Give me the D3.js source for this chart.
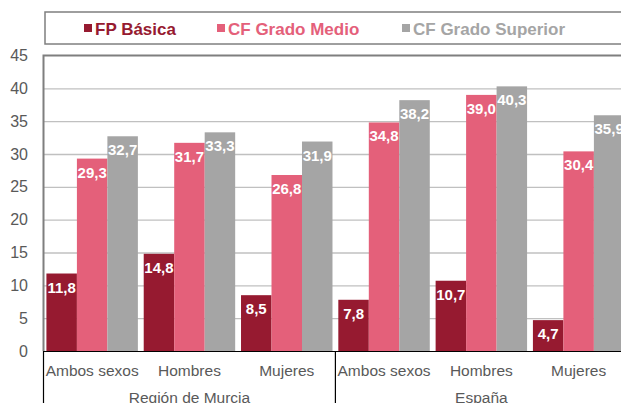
<!DOCTYPE html>
<html>
<head>
<meta charset="utf-8">
<script src="https://cdn.jsdelivr.net/npm/d3@7"></script>
<style>
  body { margin: 0; background: #fff; }
  svg { display: block; font-family: "Liberation Sans", Arial, sans-serif; }
</style>
</head>
<body>
<div class="svg-container"></div>
<script>
document.addEventListener("DOMContentLoaded", () => {

  // data
  let regions = ["Región de Murcia", "España"];
  let sexes = ["Ambos sexos", "Hombres", "Mujeres"];
  let series = ["FP Básica", "CF Grado Medio", "CF Grado Superior"];
  let fpBasica = [11.8, 14.8, 8.5, 7.8, 10.7, 4.7];
  let cfMedio = [29.3, 31.7, 26.8, 34.8, 39.0, 30.4];
  let cfSuperior = [32.7, 33.3, 31.9, 38.2, 40.3, 35.9];
  let yTicks = [0, 5, 10, 15, 20, 25, 30, 35, 40, 45];

  let colors = ["#961a30", "#e4607a", "#a5a5a5"];
  let values = [fpBasica, cfMedio, cfSuperior];

  let width = 621,
  height = 403;

  let svg = d3.select(".svg-container").append("svg")
    .attr("width", width)
    .attr("height", height);

  // groups: region + sex
  let groups = [];
  regions.forEach(r => sexes.forEach(s => groups.push(r + "|" + s)));

  const xScale = d3.scaleBand()
    .domain(groups)
    .range([43.5, 627.3])
    .paddingInner(0.06)
    .paddingOuter(0.03);

  const xInner = d3.scaleBand()
    .domain(series)
    .range([0, xScale.bandwidth()]);

  const yScale = d3.scaleLinear()
    .domain([0, 45])
    .range([351, 55.5]);

  //gridlines
  svg.append("g")
    .attr("transform", "translate(43.5,0)")
    .call(d3.axisLeft(yScale).tickValues(yTicks.slice(1, -1)).tickSize(-600).tickFormat(""))
    .call(g => g.select(".domain").remove())
    .call(g => g.selectAll("line").attr("stroke", "#c0c0c0").attr("stroke-width", 1.3));

  //plot area border
  svg.append("path")
    .attr("d", "M43.5,351 V" + yScale(45) + " H640")
    .attr("fill", "none")
    .attr("stroke", "#7f7f7f")
    .attr("stroke-width", 2);

  //y labels
  svg.append("g")
    .attr("transform", "translate(28,0)")
    .call(d3.axisLeft(yScale).tickValues(yTicks).tickSize(0).tickPadding(0))
    .call(g => g.select(".domain").remove())
    .call(g => g.selectAll("text")
      .attr("fill", "#595959")
      .style("font-size", "16px")
      .style("font-family", "'Liberation Sans', Arial, sans-serif"));

  //bars
  let rows = [];
  groups.forEach((g, i) => {
    series.forEach((s, j) => rows.push({ group: g, serie: s, value: values[j][i], color: colors[j] }));
  });

  let bars = svg.append("g");
  bars.selectAll("rect")
    .data(rows)
    .enter()
    .append("rect")
    .attr("x", d => xScale(d.group) + xInner(d.serie))
    .attr("y", d => yScale(d.value))
    .attr("width", xInner.bandwidth())
    .attr("height", d => yScale(0) - yScale(d.value))
    .style("fill", d => d.color);

  bars.selectAll("text")
    .data(rows)
    .enter()
    .append("text")
    .attr("x", d => xScale(d.group) + xInner(d.serie) + xInner.bandwidth() / 2)
    .attr("y", d => yScale(d.value) + 19)
    .attr("text-anchor", "middle")
    .attr("fill", "#fff")
    .style("font-size", "15px")
    .style("font-weight", "bold")
    .text(d => d.value.toFixed(1).replace(".", ","));

  //x axis line
  svg.append("line")
    .attr("x1", 43)
    .attr("x2", 640)
    .attr("y1", 351.5)
    .attr("y2", 351.5)
    .attr("stroke", "#000")
    .attr("stroke-width", 1.2);

  //category separators
  let seps = [0, 3, 6].map(i => i < 6 ? xScale(groups[i]) - xScale.step() * 0.03 : 627.3);
  svg.selectAll(".sep")
    .data(seps)
    .enter()
    .append("line")
    .attr("class", "sep")
    .attr("x1", d => d)
    .attr("x2", d => d)
    .attr("y1", 351)
    .attr("y2", 403)
    .attr("stroke", "#000")
    .attr("stroke-width", 1.2);

  //sex labels
  svg.selectAll(".sexLabel")
    .data(groups)
    .enter()
    .append("text")
    .attr("class", "sexLabel")
    .attr("x", d => xScale(d) + xScale.bandwidth() / 2)
    .attr("y", 376)
    .attr("text-anchor", "middle")
    .attr("fill", "#595959")
    .style("font-size", "15.5px")
    .text(d => d.split("|")[1]);

  //region labels
  svg.selectAll(".regLabel")
    .data(regions)
    .enter()
    .append("text")
    .attr("class", "regLabel")
    .attr("x", (d, i) => {
      let a = xScale(groups[i * 3]), b = xScale(groups[i * 3 + 2]) + xScale.bandwidth();
      return (a + b) / 2;
    })
    .attr("y", 403)
    .attr("text-anchor", "middle")
    .attr("fill", "#595959")
    .style("font-size", "15.5px")
    .text(d => d);

  //legend
  svg.append("rect")
    .attr("x", 45)
    .attr("y", 12)
    .attr("width", 620)
    .attr("height", 32)
    .attr("fill", "#fff")
    .attr("stroke", "#7f7f7f")
    .attr("stroke-width", 1.5);

  let legendX = [84, 217, 402];
  let legend = svg.selectAll(".legend")
    .data(series)
    .enter()
    .append("g")
    .attr("class", "legend")
    .attr("transform", (d, i) => "translate(" + legendX[i] + ",0)");

  legend.append("rect")
    .attr("x", 0)
    .attr("y", 24)
    .attr("width", 8)
    .attr("height", 8)
    .style("fill", (d, i) => colors[i]);

  legend.append("text")
    .attr("x", 11)
    .attr("y", 34.5)
    .attr("fill", (d, i) => colors[i])
    .style("font-size", "17px")
    .style("font-weight", "bold")
    .text(d => d);

})
</script>
</body>
</html>
